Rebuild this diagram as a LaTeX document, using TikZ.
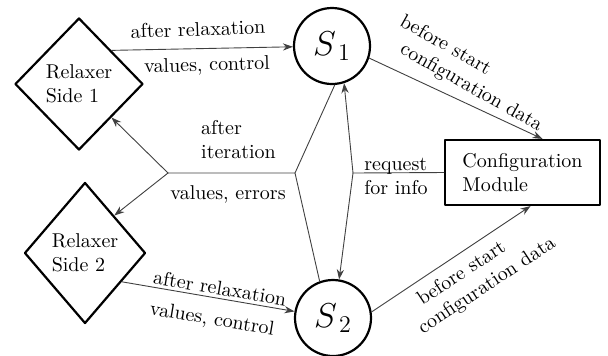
\documentclass[tikz,border=0pt]{standalone}
\usetikzlibrary{shapes.geometric,arrows.meta}
\begin{document}
\begin{tikzpicture}[>={Stealth[length=5pt,width=3.6pt]},line join=round,line cap=round,x=.5pt,y=-.5pt,
  relax/.style={draw,diamond,line width=1.1pt,align=left,inner sep=0pt},
  stn/.style={draw,circle,line width=1.1pt,minimum size=38pt,inner sep=0pt,font=\LARGE},
  cfg/.style={draw,rectangle,line width=1.1pt,align=left,minimum width=77.5pt,minimum height=32.5pt},
  con/.style={line width=.45pt,black!75},
  lbl/.style={inner sep=0pt,align=left}]
\useasboundingbox (0,0) rectangle (608,355);
\node[relax,minimum width=64pt,minimum height=66pt] (r1) at (79,84) {Relaxer\\Side 1};
\node[relax,minimum width=60.5pt,minimum height=70.5pt] (r2) at (85,253) {Relaxer\\Side 2};
\node[stn] (s1) at (332,46) {$S_{\,1}$};
\node[stn] (s2) at (333,318) {$S_{\,2}$};
\node[cfg] (cm) at (522.5,172.5) {Configuration\\Module};
\coordinate (it) at (295,173); % iteration junction
\coordinate (sp) at (168,173);
\coordinate (rq) at (353,173); % request junction
\draw[con,->] (r1.46) -- (s1);
\draw[con,->] (r2.-38) -- (s2);
\draw[con] (it) -- (sp) (it) -- (s1.274) (it) -- (s2.110);
\draw[con,->] (sp) -- (r1.south east);
\draw[con,->] (sp) -- (r2.52);
\draw[con] (rq) -- (cm.west);
\draw[con,->] (rq) -- (s1.288);
\draw[con,->] (rq) -- (s2.81);
\draw[con,->] (s1.342) -- ([xshift=10pt]cm.north);
\draw[con,->] (s2.9) -- ([xshift=4pt]cm.south);
% labels
\node[lbl,rotate=2] (l1) at (198,29) {after relaxation};
\node[lbl,rotate=1.5] (l2) at (207,66) {values, control};
\node[lbl,rotate=-9.6] (l3) at (220,288) {after relaxation};
\node[lbl,rotate=-9.6] (l4) at (212,320) {values, control};
\node[lbl] (l5) at (238.5,140) {after\\iteration};
\node[lbl] (l6) at (228,194) {values, errors};
\node[lbl] (l7) at (396,176.5) {request\\for info};
\node[lbl,rotate=-29.5] (l8) at (471,74) {before start\\\hspace*{7pt}configuration data};
\node[lbl,rotate=33.4] (l9) at (480.5,276) {\hspace*{7.5pt}before start\\configuration data};
\end{tikzpicture}
\end{document}
